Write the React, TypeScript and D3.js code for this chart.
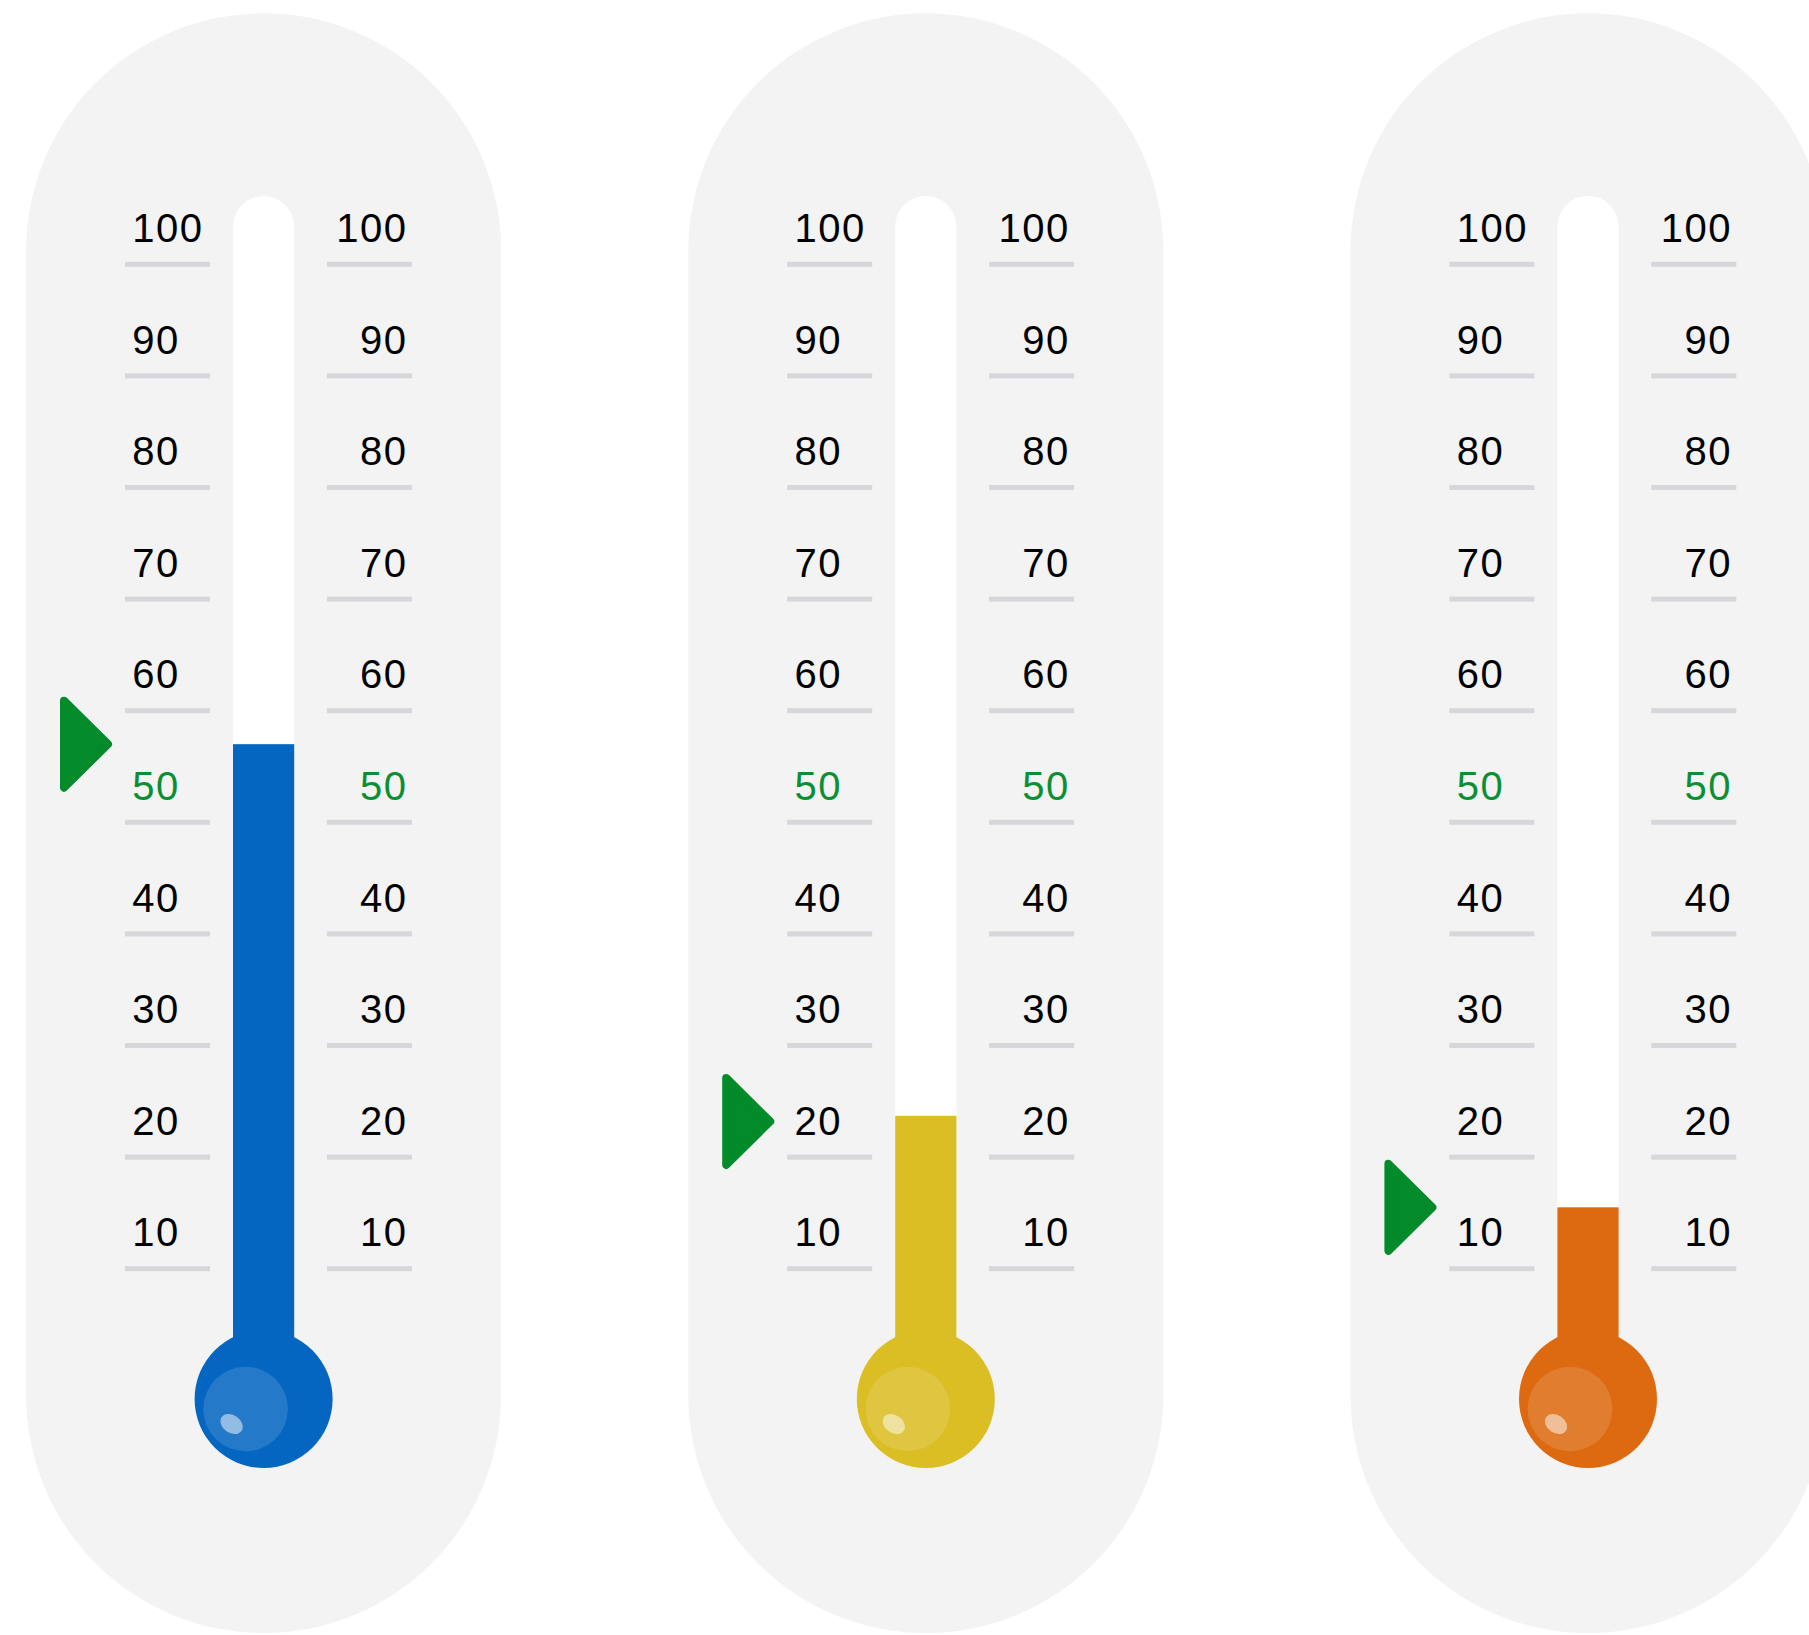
import React from "react";
import * as d3 from "d3";

// three thermometers, values
const gauges = ["A", "B", "C"];
const levels = [57, 23.7, 15.5];
const markers = [57, 23.2, 15.5];
const fills = ["#0466c1", "#dbbd24", "#dd6a10"];
const ticks = [10, 20, 30, 40, 50, 60, 70, 80, 90, 100];
const highlightTick = 50;

const W = 1809;
const H = 1635;

export default function App() {
    const x = d3.scaleLinear().domain([0, 2]).range([263.6, 1588]);
    const y = d3.scaleLinear().domain([0, 100]).range([1380.3, 264.3]);

    const bgW = 475;
    const bgTop = 13.3;
    const bgBottom = 1633;
    const stemHalf = 30.6;
    const stemTop = 196;
    const bulbY = 1399;
    const bulbR = 69;
    const font = "'Liberation Sans', Arial, Helvetica, sans-serif";
    const fs = 40;

    return (
        <svg
            width={W}
            height={H}
            viewBox={`0 0 ${W} ${H}`}
            style={{ position: "absolute", left: 0, top: 0, background: "#fff" }}
        >
            {gauges.map((g, i) => {
                const c = x(i);
                const ly = y(levels[i]);
                const my = y(markers[i]);
                return (
                    <g key={g}>
                        {/* capsule background */}
                        <rect
                            x={c - bgW / 2}
                            y={bgTop}
                            width={bgW}
                            height={bgBottom - bgTop}
                            rx={bgW / 2}
                            ry={bgW / 2}
                            fill="#f3f3f3"
                        />
                        {/* empty tube */}
                        <rect
                            x={c - stemHalf}
                            y={stemTop}
                            width={stemHalf * 2}
                            height={bulbY - stemTop}
                            rx={stemHalf}
                            ry={stemHalf}
                            fill="#ffffff"
                        />
                        {/* filled part */}
                        <rect
                            x={c - stemHalf}
                            y={ly}
                            width={stemHalf * 2}
                            height={bulbY - ly}
                            fill={fills[i]}
                        />
                        <circle cx={c} cy={bulbY} r={bulbR} fill={fills[i]} />
                        <circle cx={c - 18} cy={bulbY + 10} r={42.3} fill="#fff" opacity={0.13} />
                        <ellipse
                            cx={c - 32}
                            cy={bulbY + 25}
                            rx={12}
                            ry={9}
                            fill="#fff"
                            opacity={0.5}
                            transform={`rotate(35 ${c - 32} ${bulbY + 25})`}
                        />

                        {/* scale */}
                        {ticks.map((t) => (
                            <g key={t}>
                                <rect x={c - 138.6} y={y(t) - 2.5} width={85} height={5} fill="#d6d6db" />
                                <rect x={c + 63.3} y={y(t) - 2.5} width={85} height={5} fill="#d6d6db" />
                                <text
                                    x={c - 131.3}
                                    y={y(t) - 22.3}
                                    fontFamily={font}
                                    fontSize={fs}
                                    letterSpacing={1.5}
                                    textAnchor="start"
                                    fill={t === highlightTick ? "#0a8f33" : "#000"}
                                >
                                    {t}
                                </text>
                                <text
                                    x={c + 144}
                                    y={y(t) - 22.3}
                                    fontFamily={font}
                                    fontSize={fs}
                                    letterSpacing={1.5}
                                    textAnchor="end"
                                    fill={t === highlightTick ? "#0a8f33" : "#000"}
                                >
                                    {t}
                                </text>
                            </g>
                        ))}

                        {/* marker */}
                        <polygon
                            points={`${c - 199.6},${my - 43.5} ${c - 155.6},${my} ${c - 199.6},${my + 43.5}`}
                            fill="#038a2b"
                            stroke="#038a2b"
                            strokeWidth={8}
                            strokeLinejoin="round"
                        />
                    </g>
                );
            })}
        </svg>
    );
}
